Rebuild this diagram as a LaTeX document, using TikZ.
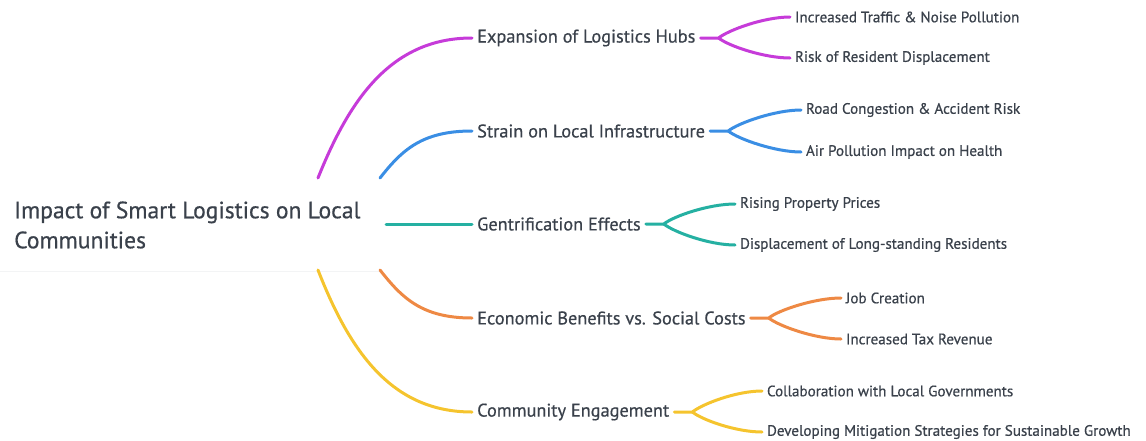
\documentclass[tikz,border=0pt]{standalone}
\usepackage{fontspec}
\setmainfont{PT Sans}
\newfontfamily\medfont[FakeBold=0.6]{PT Sans}
\usepackage{tikz}
\usetikzlibrary{positioning}
\definecolor{mmtext}{HTML}{3A414B}
\definecolor{mmpurple}{HTML}{C63BD9}
\definecolor{mmblue}{HTML}{3A8EE4}
\definecolor{mmteal}{HTML}{25B0A2}
\definecolor{mmorange}{HTML}{EE8944}
\definecolor{mmyellow}{HTML}{F5C42E}
\definecolor{mmrule}{HTML}{F3F4F5}

\begin{document}
\begin{tikzpicture}[x=1pt, y=-1pt, text=mmtext,
    root/.style={anchor=west, align=left, inner sep=0pt, font=\medfont\fontsize{23.6}{30}\selectfont},
    topic/.style={anchor=west, inner sep=5pt, font=\medfont\fontsize{18.3}{20}\selectfont},
    leaf/.style={anchor=west, inner sep=3pt, outer sep=2pt, font=\medfont\fontsize{15.1}{16}\selectfont},
    link/.style={line width=3pt, line cap=round}]
  \useasboundingbox (0,0) rectangle (1146,440);

  % central topic
  \node[root] (root) at (14,225) {Impact of Smart Logistics on Local\\Communities};
  \draw[mmrule, line width=1pt] (0,271) -- (380,271);
  \coordinate (rp) at (318,178);
  \coordinate (rb) at (380,178);
  \coordinate (rt) at (386,224);
  \coordinate (ro) at (380,270);
  \coordinate (ry) at (318,270);

  % main branches
  \node[topic] (hubs) at (472,38) {Expansion of Logistics Hubs};
  \node[topic] (infra) at (472,131) {Strain on Local Infrastructure};
  \node[topic] (gentr) at (472,224) {Gentrification Effects};
  \node[topic] (econ) at (472,318) {Economic Benefits vs. Social Costs};
  \node[topic] (comm) at (472,412) {Community Engagement};

  \draw[link, mmpurple] (rp) .. controls (350,98) and (392,38) .. (hubs.west);
  \draw[link, mmblue] (rb) .. controls (402,150) and (422,131) .. (infra.west);
  \draw[link, mmteal] (rt) -- (gentr.west);
  \draw[link, mmorange] (ro) .. controls (402,298) and (422,318) .. (econ.west);
  \draw[link, mmyellow] (ry) .. controls (350,352) and (392,412) .. (comm.west);

  % sub branches
  \node[leaf] (hubs1) at (790,17) {Increased Traffic \& Noise Pollution};
  \node[leaf] (hubs2) at (790,58) {Risk of Resident Displacement};
  \node[leaf] (infra1) at (801,110) {Road Congestion \& Accident Risk};
  \node[leaf] (infra2) at (801,152) {Air Pollution Impact on Health};
  \node[leaf] (gentr1) at (735,204) {Rising Property Prices};
  \node[leaf] (gentr2) at (735,245) {Displacement of Long-standing Residents};
  \node[leaf] (econ1) at (841,298) {Job Creation};
  \node[leaf] (econ2) at (841,339) {Increased Tax Revenue};
  \node[leaf] (comm1) at (762,391) {Collaboration with Local Governments};
  \node[leaf] (comm2) at (762,432) {Developing Mitigation Strategies for Sustainable Growth};

  \foreach \t/\c in {hubs/mmpurple, infra/mmblue, gentr/mmteal, econ/mmorange, comm/mmyellow} {
    \draw[link, \c] (\t.east) -- ++(18,0) coordinate (\t f)
      .. controls +(10,-8) and +(-26,0) .. (\t 1.west);
    \draw[link, \c] (\t f) .. controls +(10,8) and +(-26,0) .. (\t 2.west);
  }
\end{tikzpicture}
\end{document}
